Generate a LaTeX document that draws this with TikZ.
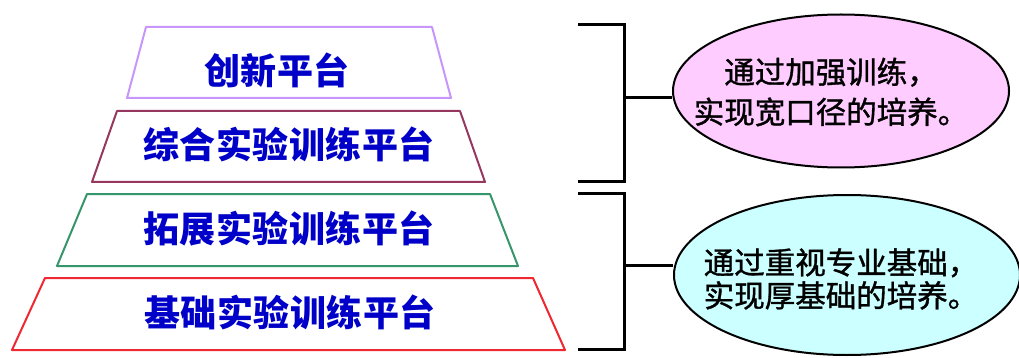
\documentclass[tikz,border=0pt]{standalone}
\usepackage{fontspec}
\newfontfamily\cjk{Noto Sans CJK SC}
\newfontfamily\cjkmed{Noto Sans CJK SC}[FakeBold=1.2]
\usetikzlibrary{shapes.geometric}
\definecolor{lav}{RGB}{200,150,250}
\definecolor{maroonl}{RGB}{150,55,95}
\definecolor{grn}{RGB}{55,150,105}
\definecolor{redl}{RGB}{240,40,50}
\definecolor{txtblue}{RGB}{0,0,200}
\definecolor{pinkf}{RGB}{255,204,255}
\definecolor{cyanf}{RGB}{204,255,255}
\begin{document}
\begin{tikzpicture}[x=1pt,y=-1pt,
  tier/.style={line width=2pt, line join=round, fill=white},
  tiertext/.style={text=txtblue, font=\cjk\bfseries\fontsize{36}{40}\selectfont\addfontfeature{LetterSpace=1.4}, inner sep=0pt},
  brk/.style={line width=3pt, line join=miter},
  oval/.style={ellipse, draw=black, line width=2pt, inner sep=0pt},
  ovaltext/.style={align=center, inner sep=0pt, text=black}]
\fill[white] (0,0) rectangle (1019,358);
\useasboundingbox (0,0) rectangle (1019,358);
% pyramid tiers
\draw[tier, draw=lav] (146,27) -- (432,27) -- (451,98) -- (127,98) -- cycle;
\draw[tier, draw=maroonl] (117,111) -- (460,111) -- (485,182) -- (92,182) -- cycle;
\draw[tier, draw=grn] (87,194) -- (490,194) -- (518,266) -- (57,266) -- cycle;
\draw[tier, draw=redl] (45,278) -- (533,278) -- (565,350) -- (12,350) -- cycle;
\node[tiertext] (p1) at (277,70) {创新平台};
\node[tiertext] (p2) at (289,144) {综合实验训练平台};
\node[tiertext] (p3) at (289,229) {拓展实验训练平台};
\node[tiertext] (p4) at (290,312) {基础实验训练平台};
% ovals
\node[oval, fill=pinkf, minimum width=336pt, minimum height=153pt] (e1) at (841,91) {};
\node[oval, fill=cyanf, minimum width=346pt, minimum height=160pt] (e2) at (847,275) {};
\node[ovaltext, font=\cjkmed\fontsize{30.5}{40}\selectfont] (t1) at (831,92) {通过加强训练，\\实现宽口径的培养。};
\node[ovaltext, font=\cjkmed\fontsize{30.5}{33}\selectfont] (t2) at (841,279) {通过重视专业基础，\\实现厚基础的培养。};
% brackets
\coordinate (b1a) at (578,25);
\coordinate (b1b) at (624,25);
\coordinate (b1c) at (624,182);
\coordinate (b1d) at (578,182);
\coordinate (b1m) at (624,98);
\coordinate (b2a) at (578,193);
\coordinate (b2b) at (624,193);
\coordinate (b2c) at (624,349);
\coordinate (b2d) at (578,349);
\coordinate (b2m) at (624,265);
\draw[brk] (b1a) -- (b1b) -- (b1c) -- (b1d);
\draw[brk] (b2a) -- (b2b) -- (b2c) -- (b2d);
\draw[brk] (b1m) -- (b1m -| e1.west);
\draw[brk] (b2m) -- (b2m -| e2.west);
\end{tikzpicture}
\end{document}
